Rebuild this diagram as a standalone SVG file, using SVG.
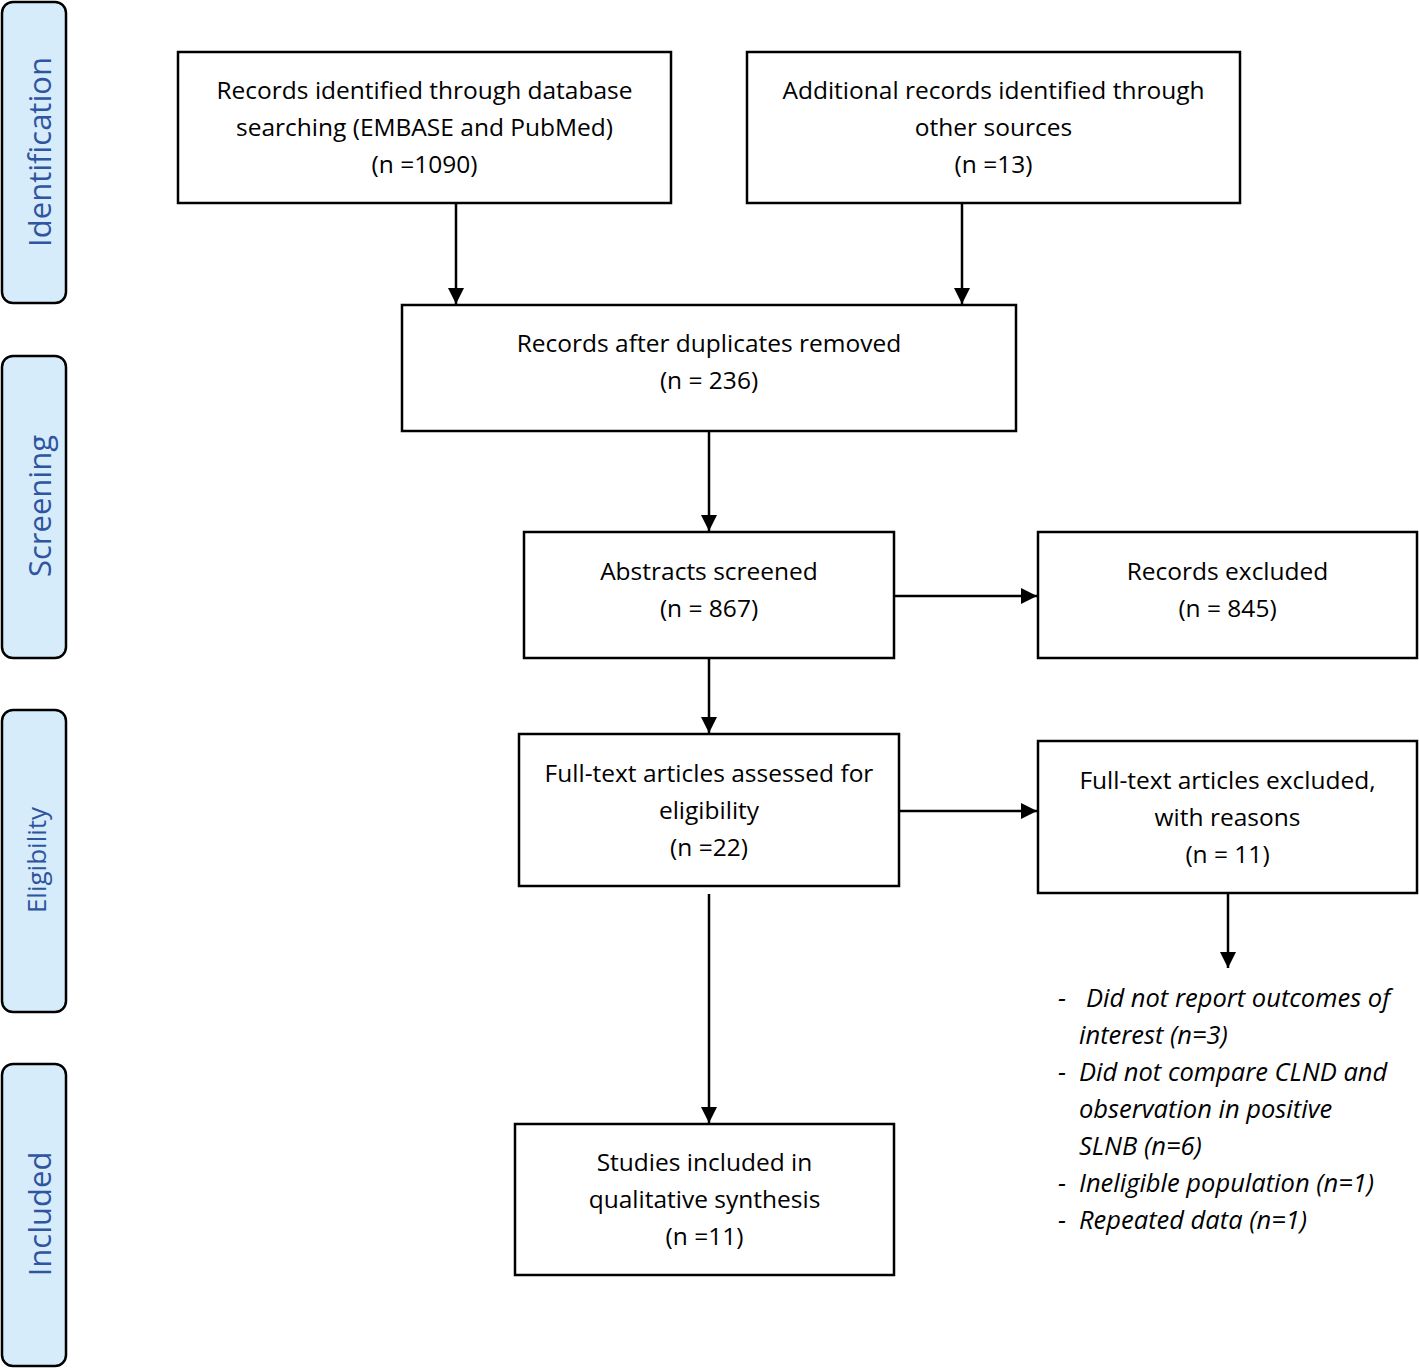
<svg xmlns="http://www.w3.org/2000/svg" width="1419" height="1368" viewBox="0 0 1419 1368">
<defs>
<marker id="ah" viewBox="0 0 10 10" refX="10" refY="5" markerWidth="17" markerHeight="16" markerUnits="userSpaceOnUse" orient="auto"><path d="M0,0 L10,5 L0,10 Z" fill="#000"/></marker>
<style>
.side{fill:#d6ecfb;stroke:#000;stroke-width:2.5}
.sl{font-family:"Open Sans","Noto Sans",sans-serif;fill:#2f54a0;text-anchor:middle}
.box{fill:#fff;stroke:#000;stroke-width:2.5}
.t{font-family:"Open Sans","Noto Sans",sans-serif;font-size:24.5px;fill:#000;text-anchor:middle}
.it{font-family:"Open Sans","Noto Sans",sans-serif;font-size:25.5px;font-style:italic;fill:#000}
.c line{stroke:#000;stroke-width:2.5;marker-end:url(#ah)}
</style>
</defs>
<rect width="1419" height="1368" fill="#fff"/>
<g id="side-identification"><rect class="side" x="2" y="2" width="64" height="301" rx="11"/><text class="sl" font-size="31" transform="translate(51,152) rotate(-90)">Identification</text></g>
<g id="side-screening"><rect class="side" x="2" y="356" width="64" height="302" rx="11"/><text class="sl" font-size="31" transform="translate(51,506) rotate(-90)">Screening</text></g>
<g id="side-eligibility"><rect class="side" x="2" y="710" width="64" height="302" rx="11"/><text class="sl" font-size="26" transform="translate(46,860) rotate(-90)">Eligibility</text></g>
<g id="side-included"><rect class="side" x="2" y="1064" width="64" height="302" rx="11"/><text class="sl" font-size="31" transform="translate(51,1214) rotate(-90)">Included</text></g>

<g id="n1"><rect class="box" x="178" y="52" width="493" height="151"/><text class="t" x="424.5" y="99">Records identified through database</text><text class="t" x="424.5" y="136">searching (EMBASE and PubMed)</text><text class="t" x="424.5" y="173">(n =1090)</text></g>
<g id="n2"><rect class="box" x="747" y="52" width="493" height="151"/><text class="t" x="993.5" y="99">Additional records identified through</text><text class="t" x="993.5" y="136">other sources</text><text class="t" x="993.5" y="173">(n =13)</text></g>
<g id="n3"><rect class="box" x="402" y="305" width="614" height="126"/><text class="t" x="709" y="352">Records after duplicates removed</text><text class="t" x="709" y="389">(n = 236)</text></g>
<g id="n4"><rect class="box" x="524" y="532" width="370" height="126"/><text class="t" x="709" y="580">Abstracts screened</text><text class="t" x="709" y="617">(n = 867)</text></g>
<g id="n5"><rect class="box" x="1038" y="532" width="379" height="126"/><text class="t" x="1227.5" y="580">Records excluded</text><text class="t" x="1227.5" y="617">(n = 845)</text></g>
<g id="n6"><rect class="box" x="519" y="734" width="380" height="152"/><text class="t" x="709" y="782">Full-text articles assessed for</text><text class="t" x="709" y="819">eligibility</text><text class="t" x="709" y="856">(n =22)</text></g>
<g id="n7"><rect class="box" x="1038" y="741" width="379" height="152"/><text class="t" x="1227.5" y="789">Full-text articles excluded,</text><text class="t" x="1227.5" y="826">with reasons</text><text class="t" x="1227.5" y="863">(n = 11)</text></g>
<g id="n8"><rect class="box" x="515" y="1124" width="379" height="151"/><text class="t" x="704.5" y="1171">Studies included in</text><text class="t" x="704.5" y="1208">qualitative synthesis</text><text class="t" x="704.5" y="1245">(n =11)</text></g>
<g id="reasons">
<text class="it" x="1058" y="1007">-</text><text class="it" x="1086" y="1007">Did not report outcomes of</text>
<text class="it" x="1079" y="1044">interest (n=3)</text>
<text class="it" x="1058" y="1081">-</text><text class="it" x="1079" y="1081">Did not compare CLND and</text>
<text class="it" x="1079" y="1118">observation in positive</text>
<text class="it" x="1079" y="1155">SLNB (n=6)</text>
<text class="it" x="1058" y="1192">-</text><text class="it" x="1079" y="1192">Ineligible population (n=1)</text>
<text class="it" x="1058" y="1229">-</text><text class="it" x="1079" y="1229">Repeated data (n=1)</text>
</g>
<g id="connectors" class="c">
<line x1="456" y1="203" x2="456" y2="304"/>
<line x1="962" y1="203" x2="962" y2="304"/>
<line x1="709" y1="431" x2="709" y2="531"/>
<line x1="709" y1="658" x2="709" y2="733"/>
<line x1="894" y1="596" x2="1037" y2="596"/>
<line x1="899" y1="811" x2="1037" y2="811"/>
<line x1="1228" y1="893" x2="1228" y2="968"/>
<line x1="709" y1="894" x2="709" y2="1123"/>
</g>
</svg>
